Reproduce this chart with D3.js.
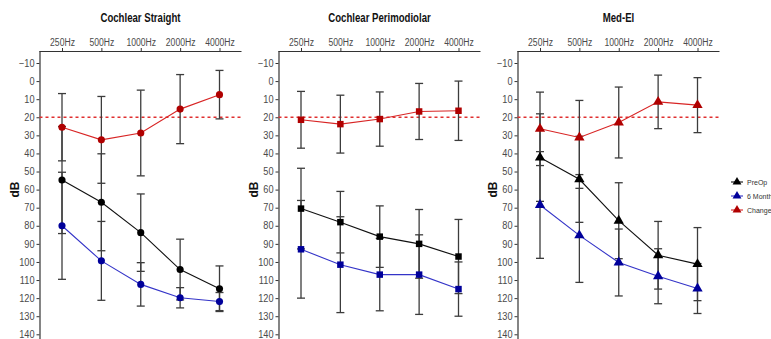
<!DOCTYPE html>
<html><head><meta charset="utf-8">
<script src="https://cdn.jsdelivr.net/npm/d3@7"></script>
<style>body{margin:0;background:#fff}svg{display:block}</style>
</head><body><svg id="c" width="771" height="339"></svg>
<script>
const freqs = ["250Hz","500Hz","1000Hz","2000Hz","4000Hz"];
const yTicks = d3.range(-10, 141, 10);
const panelTitles = ["Cochlear Straight","Cochlear Perimodiolar","Med-El"];
const seriesNames = ["PreOp","6 Month","Change"];
const shapes = ["circle","square","triangle"];

// Cochlear Straight
const straightPreOp      = [54.7, 67.0, 83.8, 104.2, 114.8];
const straightPreOpSd    = [29.6, 26.8, 21.4, 16.8, 12.6];
const straight6Month     = [80.0, 99.4, 112.4, 119.8, 121.9];
const straight6MonthSd   = [29.6, 21.8, 12.0, 5.6, 5.0];
const straightChange     = [25.5, 32.5, 28.7, 15.5, 7.5];
const straightChangeSd   = [18.6, 24.0, 23.7, 19.1, 13.4];
// Cochlear Perimodiolar
const perimodPreOp       = [70.5, 78.0, 86.0, 90.0, 97.0];
const perimodPreOpSd     = [22.3, 17.0, 17.0, 19.0, 20.5];
const perimod6Month      = [93.0, 101.5, 107.0, 107.0, 115.0];
const perimod6MonthSd    = [27.0, 26.5, 20.0, 22.0, 15.0];
const perimodChange      = [21.4, 23.8, 21.0, 16.8, 16.4];
const perimodChangeSd    = [15.7, 16.0, 15.0, 15.5, 16.4];
// Med-El
const medelPreOp         = [42.3, 54.3, 77.2, 96.3, 101.2];
const medelPreOpSd       = [24.2, 23.8, 21.0, 18.7, 20.2];
const medel6Month        = [68.5, 85.3, 100.3, 107.9, 114.7];
const medel6MonthSd      = [29.5, 26.0, 18.5, 15.2, 13.8];
const medelChange        = [26.4, 31.2, 22.9, 11.5, 13.3];
const medelChangeSd      = [20.3, 20.5, 19.6, 14.8, 15.2];
const threshold = 20;

const panelData = [
  [[straightPreOp, straightPreOpSd],[straight6Month, straight6MonthSd],[straightChange, straightChangeSd]],
  [[perimodPreOp, perimodPreOpSd],[perimod6Month, perimod6MonthSd],[perimodChange, perimodChangeSd]],
  [[medelPreOp, medelPreOpSd],[medel6Month, medel6MonthSd],[medelChange, medelChangeSd]]
];

const lineColors = ["#111111", "#3434c8", "#d82424"];
const markColors = ["#000000", "#00009a", "#b00000"];
const barColor = "#3c3c3c";
const font = "'Liberation Sans', Arial, sans-serif";

const svg = d3.select("#c");
const panelX = [39.5, 278.5, 517.5];
const panelW = 202;
const topY = 51, bottomY = 340;
const y = d3.scaleLinear().domain([-10, 140]).range([63, 334.3]);

function symbolPath(shape, size){
  const t = shape === "circle" ? d3.symbolCircle : shape === "square" ? d3.symbolSquare : d3.symbolTriangle;
  return d3.symbol().type(t).size(size)();
}
function condense(sel, k){
  sel.each(function(){
    const w = this.getComputedTextLength();
    d3.select(this).attr("textLength", w * k).attr("lengthAdjust", "spacingAndGlyphs");
  });
}
const symSize = {circle: 40, square: 42, triangle: 46};

panelX.forEach((x0, pi) => {
  const g = svg.append("g");
  const x = d3.scalePoint().domain(freqs).range([x0 + 22.5, x0 + 180]);

  // title
  const t = g.append("text").attr("x", x0 + 101).attr("y", 22).attr("text-anchor", "middle")
    .attr("font-family", font).attr("font-weight", "bold").attr("font-size", 12)
    .attr("fill", "#111").text(panelTitles[pi]);
  condense(t, 0.8);

  // top axis
  const ax = g.append("g").attr("transform", `translate(0,${topY})`)
    .call(d3.axisTop(x).tickSize(3).tickPadding(2).tickSizeOuter(0));
  ax.select(".domain").attr("d", `M${x0},0.5H${x0 + panelW}`).attr("stroke", "#333").attr("stroke-width", 1.2);
  ax.selectAll(".tick line").attr("stroke", "#333");
  ax.selectAll(".tick text").attr("font-family", font).attr("font-size", 10).attr("fill", "#4a4a4a");
  condense(ax.selectAll(".tick text"), 0.86);

  // left axis
  const ay = g.append("g").attr("transform", `translate(${x0},0)`)
    .call(d3.axisLeft(y).tickValues(yTicks).tickSize(3).tickPadding(2).tickSizeOuter(0));
  ay.select(".domain").attr("d", `M0.5,${topY}V${bottomY}`).attr("stroke", "#333").attr("stroke-width", 1.2);
  ay.selectAll(".tick line").attr("stroke", "#333");
  ay.selectAll(".tick text").attr("font-family", font).attr("font-size", 10).attr("fill", "#4a4a4a");
  condense(ay.selectAll(".tick text"), 0.92);

  // y label
  g.append("text").attr("transform", `translate(${x0 - 21},${y(60)}) rotate(-90)`)
    .attr("text-anchor", "middle").attr("font-family", font).attr("font-weight", "bold")
    .attr("font-size", 12).attr("fill", "#111").text("dB");

  // threshold line
  g.append("line").attr("x1", x0).attr("x2", x0 + panelW)
    .attr("y1", y(threshold)).attr("y2", y(threshold))
    .attr("stroke", "#e03030").attr("stroke-width", 1.4).attr("stroke-dasharray", "3,3");

  const series = panelData[pi];
  // error bars
  series.forEach(([m, sd]) => {
    const eb = g.append("g").attr("stroke", barColor).attr("stroke-width", 1.3).attr("fill", "none");
    freqs.forEach((f, i) => {
      const cx = x(f), lo = y(m[i] - sd[i]), hi = y(m[i] + sd[i]);
      eb.append("line").attr("x1", cx).attr("x2", cx).attr("y1", lo).attr("y2", hi);
      eb.append("line").attr("x1", cx - 4).attr("x2", cx + 4).attr("y1", lo).attr("y2", lo);
      eb.append("line").attr("x1", cx - 4).attr("x2", cx + 4).attr("y1", hi).attr("y2", hi);
    });
  });
  // lines and markers
  series.forEach(([m], si) => {
    const line = d3.line().x((d, i) => x(freqs[i])).y(d => y(d));
    g.append("path").attr("d", line(m)).attr("fill", "none")
      .attr("stroke", lineColors[si]).attr("stroke-width", 1.1);
    g.selectAll(null).data(m).enter().append("path")
      .attr("d", symbolPath(shapes[pi], symSize[shapes[pi]]))
      .attr("transform", (d, i) => `translate(${x(freqs[i])},${y(d)})`)
      .attr("fill", markColors[si]);
  });
});

// legend
const legY = [182, 196, 210];
seriesNames.forEach((name, i) => {
  const lg = svg.append("g").attr("transform", `translate(737,${legY[i]})`);
  lg.append("line").attr("x1", -6).attr("x2", 6).attr("stroke", lineColors[i]).attr("stroke-width", 1.1);
  lg.append("path").attr("d", symbolPath("triangle", 34)).attr("fill", markColors[i]);
  lg.append("text").attr("x", 10).attr("y", 2.5).attr("font-family", font).attr("font-size", 7)
    .attr("fill", "#333").text(name);
});
</script></body></html>
